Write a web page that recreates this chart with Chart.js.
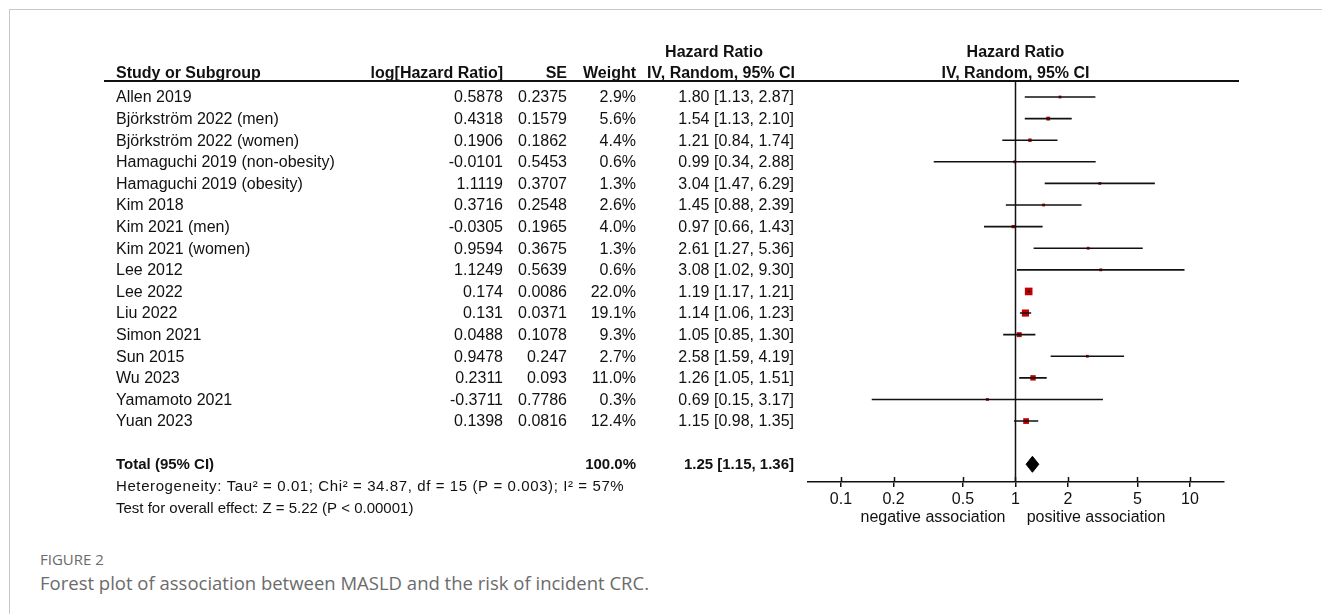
<!DOCTYPE html>
<html>
<head>
<meta charset="utf-8">
<script src="https://cdn.jsdelivr.net/npm/chart.js@4.4.1/dist/chart.umd.min.js"></script>
<style>
  html, body { margin: 0; padding: 0; background: #fff; overflow: hidden; }
  body { width: 1322px; height: 614px; position: relative; }
  #frame { position: absolute; left: 9px; top: 9px; width: 1400px; height: 700px;
           border-top: 1px solid #c8c8c8; border-left: 1px solid #c8c8c8; }
  #chart { position: absolute; left: 0; top: 0; }
  #fig { position: absolute; left: 40px; top: 549px; font-family: "Open Sans", sans-serif;
         font-size: 15px; color: #6b6b6b; }
  #cap { position: absolute; left: 40px; top: 570px; font-family: "Open Sans", sans-serif;
         font-size: 18.5px; color: #6b6b6b; }
</style>
</head>
<body>
<div id="frame"></div>
<canvas id="chart" width="1322" height="540"></canvas>
<div id="fig">FIGURE 2</div>
<div id="cap">Forest plot of association between MASLD and the risk of incident CRC.</div>
<script>
const studies = ['Allen 2019', 'Björkström 2022 (men)', 'Björkström 2022 (women)',
    'Hamaguchi 2019 (non-obesity)', 'Hamaguchi 2019 (obesity)', 'Kim 2018', 'Kim 2021 (men)',
    'Kim 2021 (women)', 'Lee 2012', 'Lee 2022', 'Liu 2022', 'Simon 2021', 'Sun 2015',
    'Wu 2023', 'Yamamoto 2021', 'Yuan 2023'];
const logHR = [0.5878, 0.4318, 0.1906, -0.0101, 1.1119, 0.3716, -0.0305, 0.9594, 1.1249,
    0.174, 0.131, 0.0488, 0.9478, 0.2311, -0.3711, 0.1398];
const se = [0.2375, 0.1579, 0.1862, 0.5453, 0.3707, 0.2548, 0.1965, 0.3675, 0.5639,
    0.0086, 0.0371, 0.1078, 0.247, 0.093, 0.7786, 0.0816];
const weights = [2.9, 5.6, 4.4, 0.6, 1.3, 2.6, 4.0, 1.3, 0.6, 22.0, 19.1, 9.3, 2.7, 11.0, 0.3, 12.4];
const hr = [1.80, 1.54, 1.21, 0.99, 3.04, 1.45, 0.97, 2.61, 3.08, 1.19, 1.14, 1.05, 2.58, 1.26, 0.69, 1.15];
const ciLow = [1.13, 1.13, 0.84, 0.34, 1.47, 0.88, 0.66, 1.27, 1.02, 1.17, 1.06, 0.85, 1.59, 1.05, 0.15, 0.98];
const ciHigh = [2.87, 2.10, 1.74, 2.88, 6.29, 2.39, 1.43, 5.36, 9.30, 1.21, 1.23, 1.30, 4.19, 1.51, 3.17, 1.35];

const totalHR = 1.25;
const totalLow = 1.15;
const totalHigh = 1.36;
const totalWeight = '100.0%';
const heterogeneity = 'Heterogeneity: Tau² = 0.01; Chi² = 34.87, df = 15 (P = 0.003); I² = 57%';
const overallTest = 'Test for overall effect: Z = 5.22 (P < 0.00001)';

const tickValues = [0.1, 0.2, 0.5, 1, 2, 5, 10];
const leftLabel = 'negative association';
const rightLabel = 'positive association';

// row positions on the hidden y axis
const totalRow = 17;
const yMin = -0.74, yMax = 17.82;

const fontFamily = '"Liberation Sans", Arial, sans-serif';
const ink = '#111';

// CI whiskers as one broken line
const ciData = [];
studies.forEach((s, i) => {
    ciData.push({x: ciLow[i], y: i});
    ciData.push({x: ciHigh[i], y: i});
    ciData.push({x: null, y: null});
});

const pointData = hr.map((v, i) => ({x: v, y: i}));
const pointRadius = weights.map(w => Math.max(2, 5.4 * Math.sqrt(w / 22)));

const diamondData = [
    {x: totalLow, y: totalRow},
    {x: totalHR, y: totalRow - 0.37},
    {x: totalHigh, y: totalRow},
    {x: totalHR, y: totalRow + 0.37},
    {x: totalLow, y: totalRow}
];

const tablePlugin = {
    id: 'table',
    afterDraw(chart) {
        const c = chart.ctx;
        const xs = chart.scales.x;
        const ys = chart.scales.y;
        c.save();
        c.fillStyle = ink;
        c.textBaseline = 'alphabetic';

        // header
        c.font = 'bold 16px ' + fontFamily;
        c.textAlign = 'center';
        c.fillText('Hazard Ratio', 714, 57);
        c.fillText('Hazard Ratio', xs.getPixelForValue(1), 57);
        c.fillText('IV, Random, 95% CI', xs.getPixelForValue(1), 78);
        c.textAlign = 'left';
        c.fillText('Study or Subgroup', 116, 78);
        c.textAlign = 'right';
        c.fillText('log[Hazard Ratio]', 503, 78);
        c.fillText('SE', 567, 78);
        c.fillText('Weight', 636, 78);
        c.fillText('IV, Random, 95% CI', 795, 78);

        // header rule
        c.strokeStyle = '#111';
        c.lineWidth = 2;
        c.beginPath();
        c.moveTo(104, 81);
        c.lineTo(1239, 81);
        c.stroke();

        // study rows
        c.font = '16px ' + fontFamily;
        c.textBaseline = 'middle';
        studies.forEach((s, i) => {
            const y = ys.getPixelForValue(i) + 1;
            c.textAlign = 'left';
            c.fillText(s, 116, y);
            c.textAlign = 'right';
            c.fillText(String(logHR[i]), 503, y);
            c.fillText(String(se[i]), 567, y);
            c.fillText(weights[i].toFixed(1) + '%', 636, y);
            c.fillText(hr[i].toFixed(2) + ' [' + ciLow[i].toFixed(2) + ', ' + ciHigh[i].toFixed(2) + ']', 794, y);
        });

        // total row
        const ty = ys.getPixelForValue(totalRow) + 1;
        c.font = 'bold 15px ' + fontFamily;
        c.textAlign = 'left';
        c.fillText('Total (95% CI)', 116, ty);
        c.textAlign = 'right';
        c.fillText(totalWeight, 636, ty);
        c.fillText(totalHR.toFixed(2) + ' [' + totalLow.toFixed(2) + ', ' + totalHigh.toFixed(2) + ']', 794, ty);

        c.font = '15px ' + fontFamily;
        c.textAlign = 'left';
        c.letterSpacing = '0.6px';
        c.fillText(heterogeneity, 116, ys.getPixelForValue(totalRow + 1.04));
        c.letterSpacing = '0px';
        c.fillText(overallTest, 116, ys.getPixelForValue(totalRow + 2.06));

        // upper halves of axis ticks
        c.lineWidth = 1.5;
        c.beginPath();
        tickValues.forEach(v => {
            const px = Math.round(xs.getPixelForValue(v)) + 0.5;
            c.moveTo(px, xs.top);
            c.lineTo(px, xs.top - 5);
        });
        c.stroke();

        // axis side labels
        c.font = '16px ' + fontFamily;
        c.textAlign = 'center';
        c.fillText(leftLabel, 933, 518);
        c.fillText(rightLabel, 1096, 518);
        c.restore();
    }
};

Chart.defaults.font.family = fontFamily;

new Chart(document.getElementById('chart'), {
    type: 'scatter',
    data: {
        datasets: [
            {
                type: 'line',
                data: [{x: 1, y: yMin}, {x: 1, y: yMax}],
                borderColor: '#111',
                borderWidth: 1.5,
                pointRadius: 0
            },
            {
                type: 'line',
                data: ciData,
                borderColor: '#111',
                borderWidth: 1.6,
                pointRadius: 0,
                spanGaps: false
            },
            {
                type: 'scatter',
                data: pointData,
                pointStyle: 'rect',
                pointRadius: pointRadius,
                backgroundColor: '#c00000',
                borderColor: '#c00000',
                borderWidth: 0
            },
            {
                type: 'line',
                data: diamondData,
                borderColor: '#000',
                backgroundColor: '#000',
                borderWidth: 1,
                pointRadius: 0,
                fill: 'shape'
            }
        ]
    },
    options: {
        responsive: false,
        animation: false,
        layout: { padding: { left: 808, right: 98, top: 81, bottom: 18 } },
        plugins: { legend: { display: false }, tooltip: { enabled: false } },
        scales: {
            x: {
                type: 'logarithmic',
                min: 0.06471,
                max: 15.66,
                afterBuildTicks: scale => {
                    scale.ticks = tickValues.map(v => ({value: v}));
                },
                afterFit: scale => { scale.height = 40; },
                ticks: {
                    autoSkip: false,
                    maxRotation: 0,
                    color: ink,
                    font: { size: 16 },
                    padding: 3,
                    callback: v => String(v)
                },
                grid: {
                    drawOnChartArea: false,
                    drawTicks: true,
                    tickLength: 5,
                    color: '#111',
                    lineWidth: 1.5
                },
                border: { display: true, color: '#111', width: 1.5 }
            },
            y: {
                type: 'linear',
                reverse: true,
                min: yMin,
                max: yMax,
                display: false
            }
        }
    },
    plugins: [tablePlugin]
});
</script>
</body>
</html>
